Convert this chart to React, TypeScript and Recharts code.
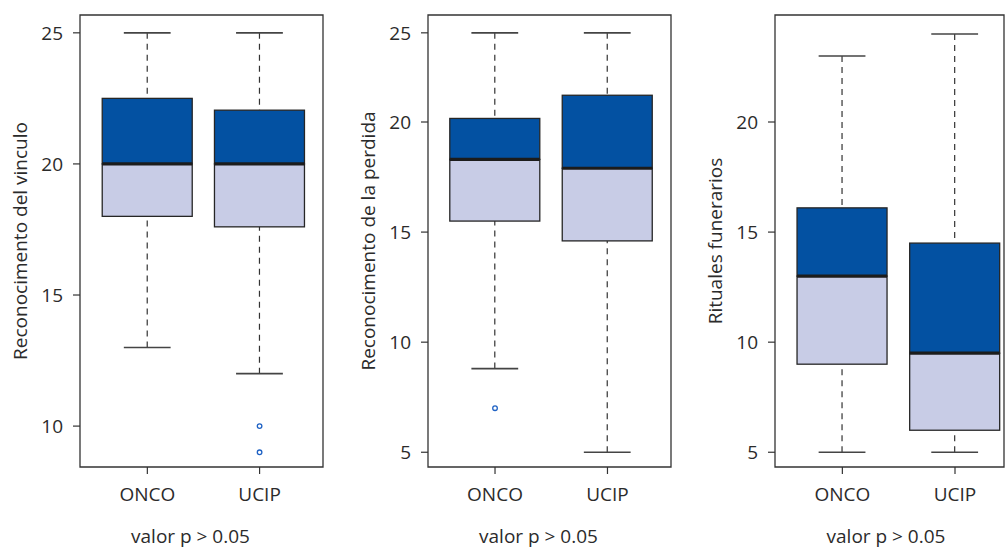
import React from 'react';
import { ComposedChart, Bar, Scatter, XAxis, YAxis, ReferenceArea, Label } from 'recharts';

// ---------- data ----------
const groups = ['ONCO', 'UCIP'];
const groupPositions = [1, 2];

// [lower whisker, Q1, median, Q3, upper whisker] per group
const vinculoStats = [
  [13, 18, 20, 22.5, 25],
  [12, 17.6, 20, 22.05, 25],
];
const vinculoOutliers = [[], [10, 9]];
const vinculoTicks = [10, 15, 20, 25];

const perdidaStats = [
  [8.8, 15.5, 18.3, 20.2, 25],
  [5, 14.6, 17.9, 21.5, 25],
];
const perdidaOutliers = [[7], []];
const perdidaTicks = [5, 10, 15, 20, 25];

const ritualesStats = [
  [5, 9, 13, 16.1, 23],
  [5, 6, 9.5, 14.5, 24],
];
const ritualesOutliers = [[], []];
const ritualesTicks = [5, 10, 15, 20];

const pValueText = 'valor p > 0.05';

// ---------- styles ----------
const FONT = "'Open Sans', 'DejaVu Sans', sans-serif";
const TEXT = '#2b2b2b';
const DARK = '#0351a2';
const LIGHT = '#c8cce6';
const EDGE = '#262626';

// axis of panel 2: the segment 20-25 is drawn compressed, as in the source figure
function compressedTopScale(breakAt: number, factor: number): any {
  let dom = [0, 1];
  let rng = [0, 1];
  const warp = (v: number) => (v <= breakAt ? v : breakAt + (v - breakAt) * factor);
  const unwarp = (w: number) => (w <= breakAt ? w : breakAt + (w - breakAt) / factor);
  const s: any = (v: number) => {
    const a = warp(dom[0]);
    const b = warp(dom[1]);
    return rng[0] + ((warp(Number(v)) - a) / (b - a)) * (rng[1] - rng[0]);
  };
  s.domain = (d?: any[]) => {
    if (d === undefined) return dom.slice();
    dom = [Number(d[0]), Number(d[d.length - 1])];
    return s;
  };
  s.range = (r?: any[]) => {
    if (r === undefined) return rng.slice();
    rng = [Number(r[0]), Number(r[r.length - 1])];
    return s;
  };
  s.rangeRound = (r: any[]) => s.range(r);
  s.copy = () => compressedTopScale(breakAt, factor).domain(dom).range(rng);
  s.invert = (px: number) => {
    const a = warp(dom[0]);
    const b = warp(dom[1]);
    return unwarp(a + ((px - rng[0]) / (rng[1] - rng[0])) * (b - a));
  };
  s.ticks = () => {
    const out: number[] = [];
    for (let t = Math.ceil(dom[0] / 5) * 5; t <= dom[1]; t += 5) out.push(t);
    return out;
  };
  s.tickFormat = () => (v: number) => String(v);
  s.nice = () => s;
  s.clamp = () => s;
  return s;
}

// ---------- shapes ----------
const LowerWhiskerShape = (p: any) => {
  const cx = p.x + p.width / 2;
  const cap = p.width * 0.26;
  const yb = p.y + p.height;
  return (
    <g>
      <line x1={cx} x2={cx} y1={yb} y2={p.y} stroke="#333" strokeWidth={1.2} strokeDasharray="6 5" />
      <line x1={cx - cap} x2={cx + cap} y1={yb} y2={yb} stroke="#444" strokeWidth={1.6} />
    </g>
  );
};

const UpperWhiskerShape = (p: any) => {
  const cx = p.x + p.width / 2;
  const cap = p.width * 0.26;
  return (
    <g>
      <line x1={cx} x2={cx} y1={p.y} y2={p.y + p.height} stroke="#333" strokeWidth={1.2} strokeDasharray="6 5" />
      <line x1={cx - cap} x2={cx + cap} y1={p.y} y2={p.y} stroke="#444" strokeWidth={1.6} />
    </g>
  );
};

const LowerBoxShape = (p: any) => (
  <rect x={p.x} y={p.y} width={p.width} height={p.height} fill={LIGHT} stroke={EDGE} strokeWidth={1.3} />
);

const UpperBoxShape = (p: any) => (
  <g>
    <rect x={p.x} y={p.y} width={p.width} height={p.height} fill={DARK} stroke={EDGE} strokeWidth={1.3} />
    <line x1={p.x} x2={p.x + p.width} y1={p.y + p.height} y2={p.y + p.height} stroke="#1c1c1c" strokeWidth={3.2} />
  </g>
);

const OutlierShape = (p: any) => (
  <circle cx={p.cx} cy={p.cy} r={2.3} fill="#ffffff" stroke="#1f62c4" strokeWidth={1.3} />
);

function toRows(stats: number[][]) {
  return stats.map((s, i) => ({
    pos: groupPositions[i],
    base: s[0],
    lowerWhisker: s[1] - s[0],
    lowerBox: s[2] - s[1],
    upperBox: s[3] - s[2],
    upperWhisker: s[4] - s[3],
  }));
}

function toOutlierRows(outliers: number[][]) {
  return outliers.flatMap((vals, i) => vals.map((v) => ({ pos: groupPositions[i], value: v })));
}

const Y_AXIS_W = 80;

type PanelProps = {
  left: number;
  plotWidth: number;
  stats: number[][];
  outliers: number[][];
  yDomain: number[];
  yTicks: number[];
  xDomain: number[];
  yTitle: string;
  yScale?: any;
  titleShift: number;
};

function Panel({ left, plotWidth, stats, outliers, yDomain, yTicks, xDomain, yTitle, yScale, titleShift }: PanelProps) {
  const rows = toRows(stats);
  const outlierRows = toOutlierRows(outliers);
  const tickStyle = { fill: TEXT, fontSize: 19, fontFamily: FONT };

  const YTitle = (props: any) => {
    const vb = props.viewBox || {};
    const x = vb.x + vb.width - 53;
    const y = vb.y + vb.height / 2;
    return (
      <text x={x} y={y} transform={`rotate(-90, ${x}, ${y})`} textAnchor="middle" fill={TEXT} fontSize={19} fontFamily={FONT}>
        {yTitle}
      </text>
    );
  };

  const XTitle = (props: any) => {
    const vb = props.viewBox || {};
    const x = vb.x + vb.width / 2 + titleShift;
    const y = vb.y + vb.height - 6;
    return (
      <text x={x} y={y} textAnchor="middle" fill={TEXT} fontSize={19} fontFamily={FONT}>
        {pValueText}
      </text>
    );
  };

  return (
    <div style={{ position: 'absolute', left, top: 0 }}>
      <ComposedChart
        width={Y_AXIS_W + plotWidth + 2}
        height={549}
        data={rows}
        margin={{ top: 15, right: 2, bottom: 0, left: 0 }}
      >
        <XAxis
          dataKey="pos"
          type="number"
          domain={xDomain}
          ticks={groupPositions}
          tickFormatter={(v: number) => groups[groupPositions.indexOf(v)]}
          allowDataOverflow
          interval={0}
          axisLine={false}
          stroke="#333"
          tickLine={{ stroke: '#333', strokeWidth: 1.2 }}
          tickSize={7}
          tickMargin={14}
          height={82}
          tick={tickStyle}
        >
          <Label content={XTitle} />
        </XAxis>
        <YAxis
          type="number"
          domain={yDomain}
          ticks={yTicks}
          scale={yScale || 'linear'}
          allowDataOverflow
          interval={0}
          width={Y_AXIS_W}
          axisLine={false}
          stroke="#333"
          tickLine={{ stroke: '#333', strokeWidth: 1.2 }}
          tickSize={7}
          tickMargin={10}
          tick={tickStyle}
        >
          <Label content={YTitle} />
        </YAxis>
        <Bar dataKey="base" stackId="box" barSize={90} fill="transparent" isAnimationActive={false} />
        <Bar dataKey="lowerWhisker" stackId="box" barSize={90} shape={LowerWhiskerShape} isAnimationActive={false} />
        <Bar dataKey="lowerBox" stackId="box" barSize={90} shape={LowerBoxShape} isAnimationActive={false} />
        <Bar dataKey="upperBox" stackId="box" barSize={90} shape={UpperBoxShape} isAnimationActive={false} />
        <Bar dataKey="upperWhisker" stackId="box" barSize={90} shape={UpperWhiskerShape} isAnimationActive={false} />
        <Scatter data={outlierRows} dataKey="value" shape={OutlierShape} isAnimationActive={false} />
        <ReferenceArea
          x1={xDomain[0]}
          x2={xDomain[1]}
          y1={yDomain[0]}
          y2={yDomain[1]}
          fill="none"
          stroke="#333"
          strokeWidth={1.3}
          ifOverflow="visible"
        />
      </ComposedChart>
    </div>
  );
}

export default function App() {
  return (
    <div style={{ position: 'absolute', left: 0, top: 0, width: 1006, height: 549, overflow: 'hidden', background: '#fff' }}>
      <Panel
        left={0}
        plotWidth={243}
        stats={vinculoStats}
        outliers={vinculoOutliers}
        yDomain={[8.44, 25.68]}
        yTicks={vinculoTicks}
        xDomain={[0.4, 2.565]}
        yTitle="Reconocimento del vinculo"
        titleShift={-11}
      />
      <Panel
        left={348}
        plotWidth={243}
        stats={perdidaStats}
        outliers={perdidaOutliers}
        yDomain={[4.33, 26.0]}
        yTicks={perdidaTicks}
        yScale={compressedTopScale(20, 0.81)}
        xDomain={[0.404, 2.565]}
        yTitle="Reconocimento de la perdida"
        titleShift={-11}
      />
      <Panel
        left={695}
        plotWidth={229}
        stats={ritualesStats}
        outliers={ritualesOutliers}
        yDomain={[4.33, 24.86]}
        yTicks={ritualesTicks}
        xDomain={[0.402, 2.435]}
        yTitle="Rituales funerarios"
        titleShift={-3.5}
      />
    </div>
  );
}
